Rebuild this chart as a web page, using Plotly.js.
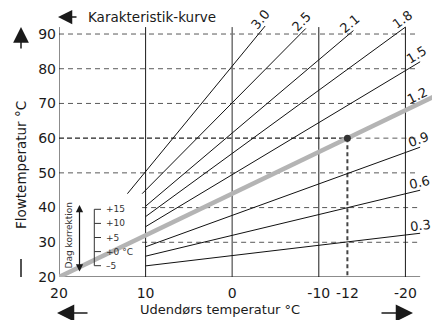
<!DOCTYPE html>
<html>
<head>
<meta charset="utf-8">
<script src="https://cdn.plot.ly/plotly-3.0.1.min.js"></script>
<style>html,body{margin:0;padding:0;background:#fff;}#chart{width:432px;height:320px;}</style>
</head>
<body>
<div id="chart"></div>
<script>
// ---- data ----
const curveLabels = ['0.3', '0.6', '0.9', '1.2', '1.5', '1.8', '2.1', '2.5', '3.0'];
const curveX0 = [10, 10, 10, 20, 10, 10, 10, 10.4, 12.1];
const curveY0 = [23.2, 26.0, 28.7, 20.0, 34.5, 37.4, 40.4, 44.0, 44.0];
const curveX1 = [-21.7, -21.7, -21.7, -23.5, -21.7, -20.0, -14.0, -8.5, -3.8];
const curveY1 = [32.6, 45.0, 57.4, 72.2, 82.0, 92.0, 91.0, 91.6, 92.3];
const exampleCurve = '1.2';
const exampleX = -13.3;          // where the "-12" marker is drawn
const exampleY = 60;
const xTickVals = [20, 10, 0, -10, exampleX, -20];
const xTickText = ['20', '10', '0', '-10', '-12', '-20'];
const yTickVals = [20, 30, 40, 50, 60, 70, 80, 90];
const yTickText = ['20', '30', '40', '50', '60', '70', '80', '90'];
const corrLabels = ['+15', '+10', '+5', '+0 °C', '\u20135'];
const xTitle = 'Udendørs temperatur °C';
const yTitle = 'Flowtemperatur °C';
const topTitle = 'Karakteristik-kurve';
const insetTitle = 'Dag korrektion';

// ---- layout geometry ----
const W = 432, H = 320, ML = 59, MR = 0, MT = 10, MB = 43;
const XR = [20, -23.07], YR = [20, 96.92];
const plotW = W - ML - MR, plotH = H - MT - MB;
const pxPerX = plotW / (XR[0] - XR[1]);
const pxPerY = plotH / (YR[1] - YR[0]);
const px2paperX = px => (px - ML) / plotW;
const py2paperY = py => (H - MB - py) / plotH;
const FONT = 'DejaVu Sans, Verdana, sans-serif';
const INK = '#1a1a1a';
const GRID = '#5a5a5a';
const LINE_TOP = 92.0, GRID_RIGHT = -21.5, AXIS_RIGHT = -21.7, LABEL_EDGE_X = -21.6;

const traces = [];
const annotations = [];
const shapes = [];

// gridlines (dashed)
[90, 80, 70, 50].forEach(v => shapes.push({type: 'line', layer: 'below', xref: 'x', yref: 'y', x0: XR[0], x1: GRID_RIGHT, y0: v, y1: v, line: {color: GRID, width: 1, dash: '5px,4px'}}));
[40, 30].forEach(v => shapes.push({type: 'line', layer: 'below', xref: 'x', yref: 'y', x0: 10.4, x1: GRID_RIGHT, y0: v, y1: v, line: {color: GRID, width: 1, dash: '5px,4px'}}));
shapes.push({type: 'line', layer: 'below', xref: 'x', yref: 'y', x0: XR[0], x1: exampleX, y0: exampleY, y1: exampleY, line: {color: '#222', width: 1.3, dash: '5px,3px'}});
shapes.push({type: 'line', layer: 'below', xref: 'x', yref: 'y', x0: exampleX, x1: GRID_RIGHT, y0: exampleY, y1: exampleY, line: {color: GRID, width: 1, dash: '5px,4px'}});
shapes.push({type: 'line', layer: 'below', xref: 'x', yref: 'y', x0: exampleX, x1: exampleX, y0: exampleY, y1: 20, line: {color: '#444', width: 2, dash: '4px,3px'}});

// vertical reference lines
[10, -10, -20].forEach(v => shapes.push({type: 'line', layer: 'below', xref: 'x', yref: 'y', x0: v, x1: v, y0: 20, y1: LINE_TOP, line: {color: INK, width: 1}}));
shapes.push({type: 'line', layer: 'below', xref: 'x', yref: 'y', x0: 0, x1: 0, y0: 20, y1: LINE_TOP, line: {color: '#7a7a7a', width: 1.6}});
// axes
shapes.push({type: 'line', layer: 'below', xref: 'x', yref: 'y', x0: 20, x1: 20, y0: 20, y1: LINE_TOP, line: {color: INK, width: 1}});
shapes.push({type: 'line', layer: 'below', xref: 'x', yref: 'y', x0: 20, x1: AXIS_RIGHT, y0: 20, y1: 20, line: {color: INK, width: 1.2}});

// curves
curveLabels.forEach((lab, i) => {
  const isEx = lab === exampleCurve;
  traces.push({
    type: 'scatter', mode: 'lines', x: [curveX0[i], curveX1[i]], y: [curveY0[i], curveY1[i]],
    line: {color: isEx ? '#b4b4b4' : '#111', width: isEx ? 4.5 : 1},
    hoverinfo: 'skip', showlegend: false, cliponaxis: true
  });
  const ax = Math.max(curveX1[i], LABEL_EDGE_X);
  const ay = curveY0[i] + (curveY1[i] - curveY0[i]) * (ax - curveX0[i]) / (curveX1[i] - curveX0[i]);
  const a = Math.atan2((curveY1[i] - curveY0[i]) * pxPerY, (curveX0[i] - curveX1[i]) * pxPerX);
  const A = 2, N = 8;
  annotations.push({
    x: ax, y: ay, xref: 'x', yref: 'y', text: lab, showarrow: false,
    xanchor: 'center', yanchor: 'middle', textangle: -a * 180 / Math.PI,
    xshift: A * Math.cos(a) - N * Math.sin(a), yshift: A * Math.sin(a) + N * Math.cos(a),
    font: {family: FONT, size: 13, color: INK}
  });
});

// example point
traces.push({type: 'scatter', mode: 'markers', x: [exampleX], y: [exampleY], marker: {color: '#333', size: 7}, hoverinfo: 'skip', showlegend: false});

// titles as text
annotations.push({xref: 'paper', yref: 'paper', x: px2paperX(220), y: py2paperY(309), text: xTitle, showarrow: false, xanchor: 'center', yanchor: 'middle', font: {family: FONT, size: 13, color: INK}});
annotations.push({xref: 'paper', yref: 'paper', x: px2paperX(21), y: py2paperY(165), text: yTitle, showarrow: false, textangle: -90, xanchor: 'center', yanchor: 'middle', font: {family: FONT, size: 13.5, color: INK}});
annotations.push({xref: 'paper', yref: 'paper', x: px2paperX(86), y: py2paperY(17), text: topTitle, showarrow: false, xanchor: 'left', yanchor: 'middle', font: {family: FONT, size: 13.5, color: INK}});

// arrows
function arrow(tipX, tipY, tailX, tailY, size) {
  annotations.push({xref: 'paper', yref: 'paper', x: px2paperX(tipX), y: py2paperY(tipY), ax: tailX - tipX, ay: tailY - tipY, axref: 'pixel', ayref: 'pixel',
    text: '', showarrow: true, arrowhead: 2, arrowsize: size, arrowwidth: 1.5, arrowcolor: INK, standoff: 0});
}
arrow(58, 17, 78, 17, 1.9);     // top-left  <-
arrow(21, 27, 21, 50, 2.1);     // up arrow
arrow(57, 313, 89, 313, 2.3);   // bottom left
arrow(413, 313, 380, 313, 2.3); // bottom right
shapes.push({type: 'line', xref: 'paper', yref: 'paper', x0: px2paperX(21), x1: px2paperX(21), y0: py2paperY(259), y1: py2paperY(277), line: {color: INK, width: 1.5}});

// day-correction inset
annotations.push({xref: 'paper', yref: 'paper', x: px2paperX(68.5), y: py2paperY(236), text: insetTitle, showarrow: false, textangle: -90, xanchor: 'center', yanchor: 'middle', font: {family: FONT, size: 9, color: '#333'}});
annotations.push({xref: 'paper', yref: 'paper', x: px2paperX(79.5), y: py2paperY(205), ax: 0, ay: 68, axref: 'pixel', ayref: 'pixel', text: '', showarrow: true, arrowhead: 2, arrowside: 'end+start', arrowsize: 1.2, arrowwidth: 1.2, arrowcolor: INK, standoff: 0, startstandoff: 0});
const corrTop = 209.3, corrStep = 14.1;
shapes.push({type: 'line', xref: 'paper', yref: 'paper', x0: px2paperX(94.3), x1: px2paperX(94.3), y0: py2paperY(corrTop), y1: py2paperY(corrTop + corrStep * (corrLabels.length - 1)), line: {color: '#333', width: 1}});
corrLabels.forEach((t, k) => {
  const py = corrTop + corrStep * k;
  shapes.push({type: 'line', xref: 'paper', yref: 'paper', x0: px2paperX(94.3), x1: px2paperX(101), y0: py2paperY(py), y1: py2paperY(py), line: {color: '#333', width: 1}});
  annotations.push({xref: 'paper', yref: 'paper', x: px2paperX(104), y: py2paperY(py), text: t, showarrow: false, xanchor: 'left', yanchor: 'middle', font: {family: FONT, size: 9, color: '#333'}});
});

const layout = {
  width: W, height: H, margin: {l: ML, r: MR, t: MT, b: MB},
  paper_bgcolor: '#fff', plot_bgcolor: '#fff', showlegend: false,
  xaxis: {range: XR, showgrid: false, zeroline: false, showline: false, ticks: '', tickvals: xTickVals, ticktext: xTickText,
    ticklabelstandoff: 6, tickfont: {family: FONT, size: 14, color: INK}, fixedrange: true},
  yaxis: {range: YR, showgrid: false, zeroline: false, showline: false, ticks: '', tickvals: yTickVals, ticktext: yTickText,
    ticklabelstandoff: 2, tickfont: {family: FONT, size: 14, color: INK}, fixedrange: true},
  shapes: shapes, annotations: annotations
};
Plotly.newPlot('chart', traces, layout, {displayModeBar: false, staticPlot: true});
</script>
</body>
</html>
